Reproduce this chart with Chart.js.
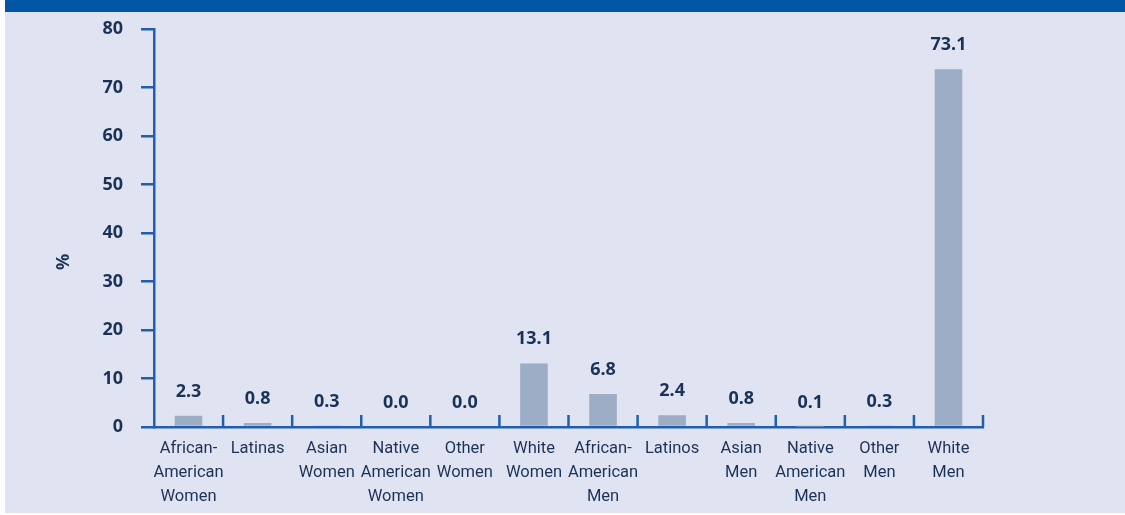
<!DOCTYPE html>
<html>
<head>
<meta charset="utf-8">
<script src="https://cdn.jsdelivr.net/npm/chart.js@4"></script>
<style>
  html, body { margin: 0; padding: 0; background: #ffffff; }
  #marco { position: relative; width: 1125px; height: 515px; overflow: hidden; }
  #panel { position: absolute; left: 5px; top: 0; width: 1120px; height: 513px; background: #e0e4f2; }
  #banda { position: absolute; left: 0; top: 0; width: 100%; height: 12px; background: #0055a5; }
  #grafico { position: absolute; left: 0; top: 0; }
</style>
</head>
<body>
<div id="marco">
  <div id="panel"><div id="banda"></div></div>
  <canvas id="grafico" width="1125" height="515"></canvas>
</div>
<script>
// Datos del gráfico
const categorias = [
  ['African-', 'American', 'Women'],
  'Latinas',
  ['Asian', 'Women'],
  ['Native', 'American', 'Women'],
  ['Other', 'Women'],
  ['White', 'Women'],
  ['African-', 'American', 'Men'],
  'Latinos',
  ['Asian', 'Men'],
  ['Native', 'American', 'Men'],
  ['Other', 'Men'],
  ['White', 'Men']
];
const porcentajes = [2.3, 0.8, 0.3, 0.0, 0.0, 13.1, 6.8, 2.4, 0.8, 0.1, 0.3, 73.1];
const ticksY = [0, 10, 20, 30, 40, 50, 60, 70, 80];
const tituloY = '%';

const azul = '#1f5fb0';
const texto = '#1b3257';
const fuente = "'Noto Sans', 'Open Sans', sans-serif";
const fuenteEstrecha = "Roboto, 'Noto Sans', sans-serif";

// El eje original no es uniforme: el tramo 70-80 es mas alto que los demas
const CORTE = 70;
const FRACCION_CORTE = 342 / 401;

class EscalaQuebrada extends Chart.LinearScale {
  getPixelForValue(v) {
    let f;
    if (v <= CORTE) {
      f = (v - this.min) / (CORTE - this.min) * FRACCION_CORTE;
    } else {
      f = FRACCION_CORTE + (v - CORTE) / (this.max - CORTE) * (1 - FRACCION_CORTE);
    }
    return this.bottom - f * (this.bottom - this.top);
  }
}
EscalaQuebrada.id = 'quebrada';
EscalaQuebrada.defaults = Chart.LinearScale.defaults;
Chart.register(EscalaQuebrada);

// Etiquetas de valor, titulo del eje y y marcas del eje x hacia dentro
const extras = {
  id: 'extras',
  afterDatasetsDraw(chart) {
    const ctx = chart.ctx;
    const meta = chart.getDatasetMeta(0);
    ctx.save();
    ctx.fillStyle = texto;
    ctx.font = "bold 18px " + fuente;
    ctx.textAlign = 'center';
    ctx.textBaseline = 'alphabetic';
    meta.data.forEach((barra, i) => {
      ctx.fillText(porcentajes[i].toFixed(1), barra.x, barra.y - 19);
    });

    // titulo "%" algo por debajo del centro, como en el original
    ctx.save();
    ctx.translate(64, 262);
    ctx.rotate(-Math.PI / 2);
    ctx.textBaseline = 'middle';
    ctx.fillText(tituloY, 0, 0);
    ctx.restore();

    const x = chart.scales.x;
    const n = categorias.length;
    const paso = (x.right - x.left) / n;
    const base = chart.chartArea.bottom;
    ctx.strokeStyle = azul;
    ctx.lineWidth = 2.5;
    for (let i = 1; i <= n; i++) {
      const px = x.left + i * paso;
      ctx.beginPath();
      ctx.moveTo(px, base);
      ctx.lineTo(px, base - 12);
      ctx.stroke();
    }
    ctx.restore();
  }
};

new Chart(document.getElementById('grafico'), {
  type: 'bar',
  data: {
    labels: categorias,
    datasets: [{
      data: porcentajes,
      backgroundColor: '#9eadc6',
      barPercentage: 0.4,
      categoryPercentage: 1.0
    }]
  },
  options: {
    responsive: false,
    animation: false,
    layout: { padding: { top: 26, right: 142, bottom: 0, left: 0 } },
    plugins: { legend: { display: false }, tooltip: { enabled: false } },
    scales: {
      x: {
        grid: { display: false },
        border: { display: true, color: azul, width: 2.5 },
        ticks: {
          color: texto,
          font: { family: fuenteEstrecha, size: 16.5, lineHeight: 1.45 },
          padding: 2,
          maxRotation: 0,
          autoSkip: false
        },
        afterFit(escala) { escala.height = 88; }
      },
      y: {
        type: 'quebrada',
        min: 0,
        max: 80,
        afterBuildTicks(escala) {
          escala.ticks = ticksY.map(v => ({ value: v }));
        },
        grid: {
          drawOnChartArea: false,
          color: azul,
          lineWidth: 2.5,
          tickLength: 13
        },
        border: { display: true, color: azul, width: 2.5 },
        ticks: {
          color: texto,
          font: { family: fuente, size: 18, weight: 'bold' },
          padding: 18
        },
        afterFit(escala) { escala.width = 154; }
      }
    }
  },
  plugins: [extras]
});
</script>
</body>
</html>
